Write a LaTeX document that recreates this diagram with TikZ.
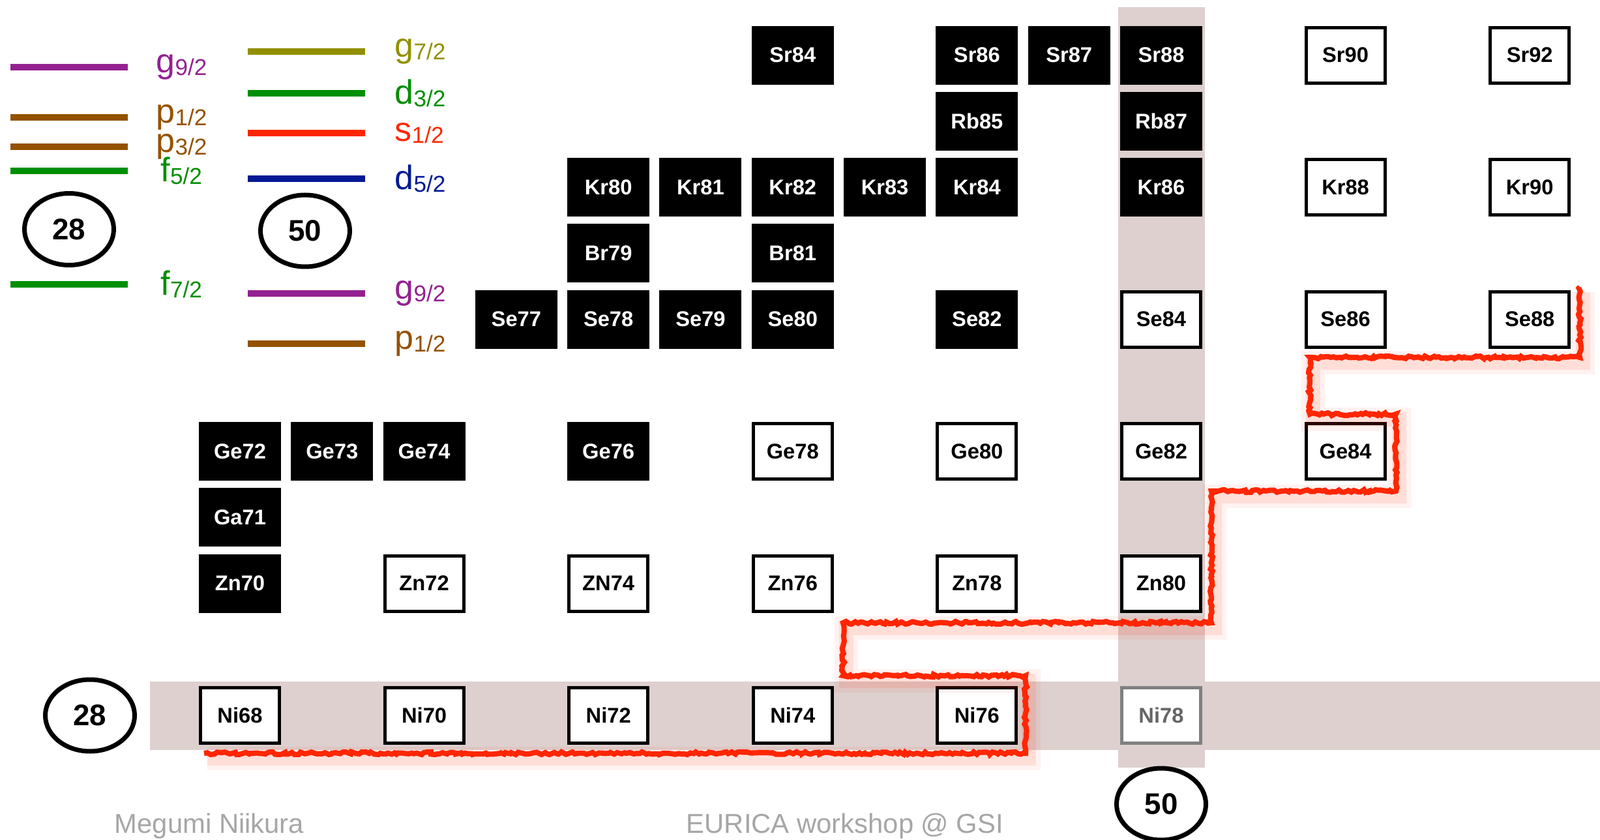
\documentclass[tikz,border=0pt]{standalone}
\usepackage{fontspec}
\setmainfont{Liberation Sans}
\usetikzlibrary{shapes.geometric, decorations.pathmorphing}
\definecolor{plum}{HTML}{942192}
\definecolor{mocha}{HTML}{945200}
\definecolor{clover}{HTML}{008F00}
\definecolor{asparagus}{HTML}{929000}
\definecolor{maraschino}{HTML}{FF2600}
\definecolor{midnight}{HTML}{011993}
\definecolor{band}{HTML}{DDD0CF}
\definecolor{footgray}{HTML}{A6A6A6}
\newcommand{\orb}[2]{{\fontsize{14.8}{16}\selectfont #1}{\fontsize{10}{11}\selectfont\raisebox{-1pt}{#2}}}
\tikzset{
  nuc/.style={minimum width=1.21cm, minimum height=0.85cm, inner sep=0pt, line width=0.05cm, font=\bfseries\fontsize{9.3}{10}\selectfont},
  stab/.style={nuc, draw=black, fill=black, text=white},
  unst/.style={nuc, draw=black, fill=white, text=black},
  far/.style={nuc, draw=black!50, fill=white, text=black!60},
  magic/.style={draw, ellipse, line width=0.07cm, minimum width=1.37cm, minimum height=1.10cm, inner sep=0pt, fill=white, font=\bfseries\fontsize{13}{14}\selectfont},
  lvl/.style={line width=2.8pt},
  orbit/.style={anchor=west, inner sep=0pt},
  foot/.style={anchor=base west, inner sep=0pt, text=footgray, font=\fontsize{11.9}{14}\selectfont},
  shell/.style={draw=maraschino, line width=2.3pt, line join=miter, decorate, decoration={random steps, segment length=1.2pt, amplitude=0.6pt}},
  glow/.style={draw=maraschino, line join=miter, transform canvas={shift={(0.05,-0.08)}}},
}

\begin{document}
\begin{tikzpicture}
\useasboundingbox (0,0) rectangle (24.54,12.87);
% magic number bands
\fill[band] (2.30,1.37) rectangle (24.54,2.42);
\fill[band] (17.15,1.10) rectangle (18.48,12.76);

% single-particle levels, N=28
\draw[lvl, plum] (0.16,11.84) -- (1.96,11.84);
\draw[lvl, mocha] (0.16,11.07) -- (1.96,11.07);
\draw[lvl, mocha] (0.16,10.62) -- (1.96,10.62);
\draw[lvl, clover] (0.16,10.25) -- (1.96,10.25);
\draw[lvl, clover] (0.16,8.51) -- (1.96,8.51);
\node[orbit, text=plum] (lg92) at (2.39,11.84) {\orb{g}{9/2}};
\node[orbit, text=mocha] (lp12) at (2.39,11.07) {\orb{p}{1/2}};
\node[orbit, text=mocha] (lp32) at (2.39,10.62) {\orb{p}{3/2}};
\node[orbit, text=clover] (lf52) at (2.46,10.25) {\orb{f}{5/2}};
\node[orbit, text=clover] (lf72) at (2.46,8.51) {\orb{f}{7/2}};
\node[magic] (m28a) at (1.06,9.355) {28};

% single-particle levels, N=50
\draw[lvl, asparagus] (3.80,12.08) -- (5.60,12.08);
\draw[lvl, clover] (3.80,11.44) -- (5.60,11.44);
\draw[lvl, maraschino] (3.80,10.83) -- (5.60,10.83);
\draw[lvl, midnight] (3.80,10.13) -- (5.60,10.13);
\draw[lvl, plum] (3.80,8.37) -- (5.60,8.37);
\draw[lvl, mocha] (3.80,7.60) -- (5.60,7.60);
\node[orbit, text=asparagus] (rg72) at (6.05,12.08) {\orb{g}{7/2}};
\node[orbit, text=clover] (rd32) at (6.05,11.44) {\orb{d}{3/2}};
\node[orbit, text=maraschino] (rs12) at (6.05,10.83) {\orb{s}{1/2}};
\node[orbit, text=midnight] (rd52) at (6.05,10.13) {\orb{d}{5/2}};
\node[orbit, text=plum] (rg92) at (6.05,8.37) {\orb{g}{9/2}};
\node[orbit, text=mocha] (rp12) at (6.05,7.60) {\orb{p}{1/2}};
\node[magic] (m50a) at (4.68,9.33) {50};

% chart of nuclides, placed at (N,Z)
\begin{scope}[x=1.413cm, y=1.0125cm, shift={(-52.84cm,-26.45cm)}]
\node[stab] (sr84) at (46,38) {Sr84};
\node[stab] (sr86) at (48,38) {Sr86};
\node[stab] (sr87) at (49,38) {Sr87};
\node[stab] (sr88) at (50,38) {Sr88};
\node[unst] (sr90) at (52,38) {Sr90};
\node[unst] (sr92) at (54,38) {Sr92};
\node[stab] (rb85) at (48,37) {Rb85};
\node[stab] (rb87) at (50,37) {Rb87};
\node[stab] (kr80) at (44,36) {Kr80};
\node[stab] (kr81) at (45,36) {Kr81};
\node[stab] (kr82) at (46,36) {Kr82};
\node[stab] (kr83) at (47,36) {Kr83};
\node[stab] (kr84) at (48,36) {Kr84};
\node[stab] (kr86) at (50,36) {Kr86};
\node[unst] (kr88) at (52,36) {Kr88};
\node[unst] (kr90) at (54,36) {Kr90};
\node[stab] (br79) at (44,35) {Br79};
\node[stab] (br81) at (46,35) {Br81};
\node[stab] (se77) at (43,34) {Se77};
\node[stab] (se78) at (44,34) {Se78};
\node[stab] (se79) at (45,34) {Se79};
\node[stab] (se80) at (46,34) {Se80};
\node[stab] (se82) at (48,34) {Se82};
\node[unst] (se84) at (50,34) {Se84};
\node[unst] (se86) at (52,34) {Se86};
\node[unst] (se88) at (54,34) {Se88};
\node[stab] (ge72) at (40,32) {Ge72};
\node[stab] (ge73) at (41,32) {Ge73};
\node[stab] (ge74) at (42,32) {Ge74};
\node[stab] (ge76) at (44,32) {Ge76};
\node[unst] (ge78) at (46,32) {Ge78};
\node[unst] (ge80) at (48,32) {Ge80};
\node[unst] (ge82) at (50,32) {Ge82};
\node[unst] (ge84) at (52,32) {Ge84};
\node[stab] (ga71) at (40,31) {Ga71};
\node[stab] (zn70) at (40,30) {Zn70};
\node[unst] (zn72) at (42,30) {Zn72};
\node[unst] (zn74) at (44,30) {ZN74};
\node[unst] (zn76) at (46,30) {Zn76};
\node[unst] (zn78) at (48,30) {Zn78};
\node[unst] (zn80) at (50,30) {Zn80};
\node[unst] (ni68) at (40,28) {Ni68};
\node[unst] (ni70) at (42,28) {Ni70};
\node[unst] (ni72) at (44,28) {Ni72};
\node[unst] (ni74) at (46,28) {Ni74};
\node[unst] (ni76) at (48,28) {Ni76};
\node[far] (ni78) at (50,28) {Ni78};
\end{scope}

\node[magic] (m28b) at (1.38,1.90) {28};
\node[magic] (m50b) at (17.81,0.54) {50};

% limit of known nuclei
\def\edge{(3.13,1.32) -- (15.73,1.32) -- (15.73,2.51) -- (12.93,2.51) -- (12.93,3.32) -- (18.58,3.32) -- (18.58,5.34) -- (21.41,5.34) -- (21.41,6.52) -- (20.09,6.52) -- (20.09,7.39) -- (24.23,7.39) -- (24.23,8.47)}
\draw[glow, line width=10pt, opacity=0.06] \edge;
\draw[glow, line width=6pt, opacity=0.10] \edge;
\draw[shell] \edge;

\node[foot] (author) at (1.75,0.10) {Megumi Niikura};
\node[foot] (venue) at (10.52,0.10) {EURICA workshop @ GSI};
\end{tikzpicture}
\end{document}
